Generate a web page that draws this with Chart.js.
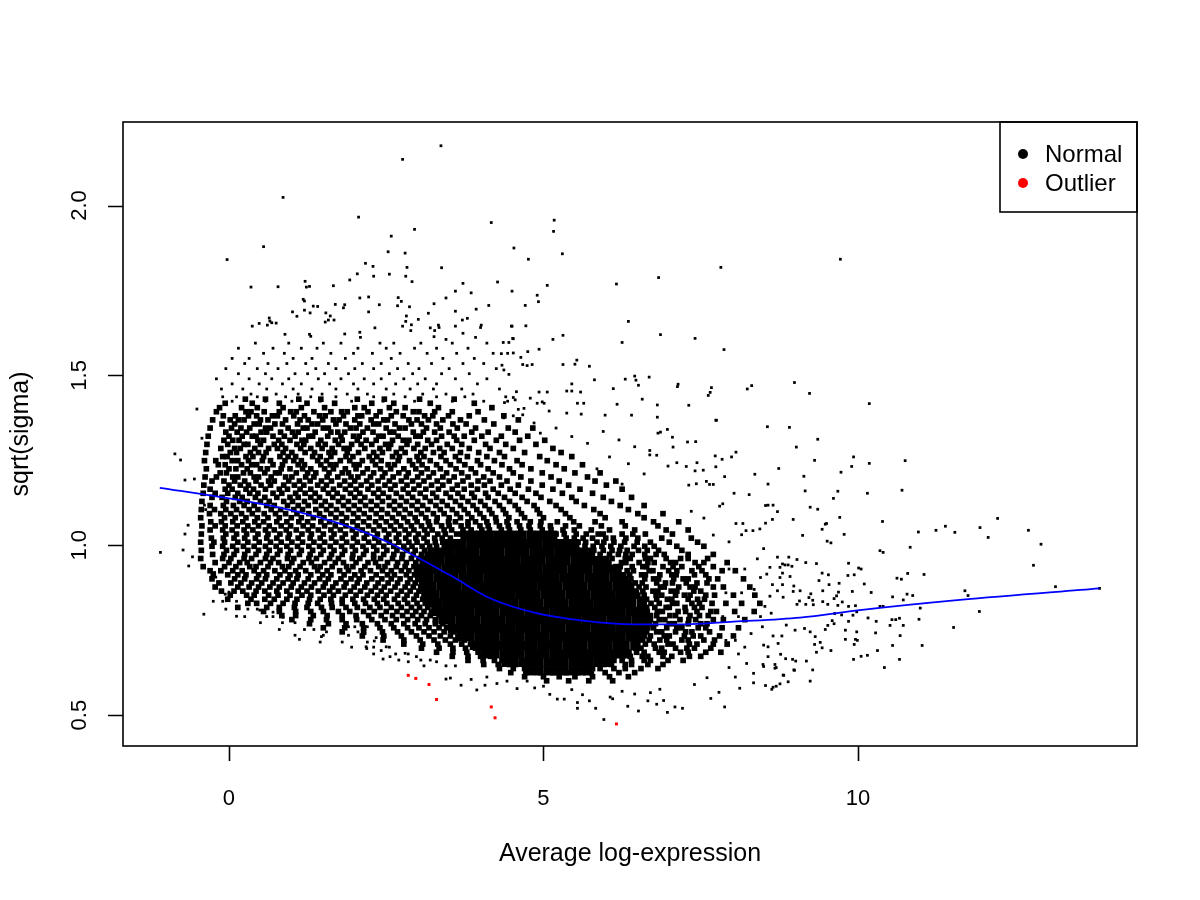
<!DOCTYPE html>
<html lang="en">
<head>
    <meta charset="UTF-8">
    <title>sqrt(sigma) vs Average log-expression</title>
    <script src="https://cdn.jsdelivr.net/npm/chart.js"></script>
    <style>
        body { margin: 0; background: #fff; }
        canvas { display: block; }
    </style>
</head>
<body>
    <canvas id="saChart" width="1200" height="900"></canvas>

    <script>
        // axis ticks
        const xTicks = [0, 5, 10];
        const yTicks = [0.5, 1.0, 1.5, 2.0];

        // fitted trend (Average log-expression, sqrt(sigma))
        const trendA = [-1.10, -0.10, 0.70, 1.49, 1.92, 2.13, 2.56, 3.08, 3.56, 4.15, 4.89, 5.63, 6.43, 7.22, 8.02, 9.08, 10.03, 11.62, 13.84];
        const trendS = [1.169, 1.141, 1.115, 1.079, 1.054, 1.040, 1.006, 0.956, 0.907, 0.844, 0.800, 0.778, 0.767, 0.767, 0.775, 0.787, 0.809, 0.839, 0.873];

        // outlier genes
        const outA = [2.85, 2.97, 3.18, 3.30, 4.17, 4.23, 6.16];
        const outS = [0.617, 0.608, 0.590, 0.546, 0.524, 0.492, 0.474];

        // solid centre of the cloud: [sqrt(sigma), A, A, ...]
        const coreRows = [
            [1.03, 3.75,3.88,4.0,4.13,4.27,4.4,4.53,4.66,4.8,4.93,5.06,5.15],
            [1.005, 3.45,3.58,3.71,3.85,3.98,4.11,4.25,4.38,4.51,4.65,4.78,4.91,5.05,5.18,5.31,5.42,5.5],
            [0.98, 3.25,3.38,3.51,3.65,3.78,3.91,4.05,4.18,4.31,4.45,4.58,4.71,4.85,4.98,5.11,5.25,5.38,5.51,5.63,5.75],
            [0.955, 3.1,3.23,3.36,3.5,3.63,3.76,3.9,4.03,4.16,4.3,4.43,4.56,4.7,4.83,4.96,5.1,5.23,5.36,5.5,5.63,5.76,5.87,5.95],
            [0.93, 3.05,3.18,3.31,3.45,3.58,3.71,3.85,3.98,4.11,4.25,4.38,4.51,4.65,4.78,4.91,5.05,5.18,5.31,5.45,5.58,5.71,5.85,5.98,6.1],
            [0.905, 3.05,3.18,3.32,3.45,3.58,3.72,3.85,3.98,4.12,4.25,4.38,4.52,4.65,4.78,4.92,5.05,5.18,5.32,5.45,5.58,5.72,5.85,5.98,6.12,6.25],
            [0.88, 3.1,3.23,3.37,3.5,3.63,3.77,3.9,4.03,4.17,4.3,4.43,4.57,4.7,4.83,4.97,5.1,5.23,5.37,5.5,5.63,5.77,5.9,6.03,6.17,6.3,6.35],
            [0.855, 3.15,3.28,3.42,3.55,3.68,3.82,3.95,4.08,4.22,4.35,4.48,4.62,4.75,4.88,5.02,5.15,5.28,5.42,5.55,5.68,5.82,5.95,6.08,6.22,6.35,6.45],
            [0.83, 3.2,3.33,3.47,3.6,3.73,3.87,4.0,4.13,4.27,4.4,4.53,4.67,4.8,4.93,5.07,5.2,5.33,5.47,5.6,5.73,5.87,6.0,6.13,6.27,6.4,6.55],
            [0.805, 3.3,3.43,3.57,3.7,3.83,3.97,4.1,4.23,4.37,4.5,4.63,4.77,4.9,5.03,5.17,5.3,5.43,5.57,5.7,5.83,5.97,6.1,6.23,6.37,6.5,6.6],
            [0.78, 3.4,3.53,3.67,3.8,3.93,4.07,4.2,4.33,4.47,4.6,4.73,4.87,5.0,5.13,5.27,5.4,5.53,5.67,5.8,5.93,6.07,6.2,6.33,6.47,6.6,6.65],
            [0.755, 3.55,3.68,3.82,3.95,4.08,4.22,4.35,4.48,4.62,4.75,4.88,5.02,5.15,5.28,5.42,5.55,5.68,5.82,5.95,6.08,6.22,6.35,6.48,6.6],
            [0.73, 3.7,3.83,3.97,4.1,4.23,4.37,4.5,4.63,4.77,4.9,5.03,5.17,5.3,5.43,5.57,5.7,5.83,5.97,6.1,6.23,6.37,6.5,6.55],
            [0.705, 3.9,4.03,4.17,4.3,4.43,4.57,4.7,4.83,4.97,5.1,5.23,5.37,5.5,5.63,5.77,5.9,6.03,6.17,6.3,6.45],
            [0.68, 4.1,4.23,4.37,4.5,4.63,4.77,4.9,5.03,5.17,5.3,5.43,5.57,5.7,5.83,5.97,6.1,6.22,6.3],
            [0.655, 4.4,4.53,4.67,4.8,4.93,5.07,5.2,5.33,5.47,5.6,5.73,5.87,5.98,6.05],
            [0.63, 4.8,4.93,5.07,5.2,5.33,5.47,5.6,5.7]
        ];

        // speckled body of the cloud: [sqrt(sigma), A, A, ...]
        const midRows = [
            [1.430, 0.26,0.58,1.11,1.46,2.04,2.47,3.03,3.58],
            [1.418, -0.06,0.37,0.8,1.24,1.68,2.27,2.62,3.2,3.9],
            [1.405, -0.15,0.2,0.45,0.86,1.15,1.52,2.0,2.15,2.55,2.8,3.33,4.18],
            [1.393, -0.2,0.27,0.35,0.56,0.8,0.98,1.07,1.35,1.62,1.79,1.88,2.21,2.4,2.66,2.93,3.02,3.27,3.55,3.96],
            [1.381, -0.09,0.1,0.31,0.44,0.69,0.77,1.03,1.2,1.44,1.53,1.82,2.05,2.11,2.34,2.58,2.77,3.11,3.24,3.49,3.82,4.37],
            [1.369, -0.26,0.02,0.15,0.24,0.5,0.62,0.9,1.13,1.26,1.49,1.66,1.75,2.0,2.26,2.46,2.52,2.86,2.99,3.17,3.4,3.68,4.06,4.6],
            [1.357, -0.11,0.09,0.4,0.48,0.73,0.85,1.09,1.32,1.41,1.7,1.86,2.08,2.3,2.38,2.64,2.9,3.06,3.3,3.56,3.77,4.21],
            [1.345, -0.3,0.04,0.19,0.33,0.58,0.66,0.94,1.18,1.24,1.5,1.58,1.93,2.02,2.2,2.5,2.71,2.8,3.14,3.36,3.63,3.92,4.44,4.83],
            [1.333, -0.05,0.13,0.28,0.51,0.6,0.82,1.01,1.1,1.37,1.62,1.73,1.84,2.13,2.29,2.56,2.62,2.93,3.09,3.27,3.5,3.86,4.12,4.55],
            [1.321, -0.33,0.0,0.21,0.37,0.43,0.7,0.88,1.05,1.27,1.33,1.57,1.78,1.98,2.07,2.38,2.45,2.69,2.97,3.04,3.38,3.58,3.74,4.02,4.33,4.75],
            [1.309, -0.08,0.06,0.16,0.46,0.55,0.79,0.97,1.16,1.22,1.46,1.69,1.8,2.04,2.18,2.34,2.6,2.77,2.86,3.16,3.3,3.62,3.9,4.25,4.62,5.02],
            [1.297, -0.35,-0.02,0.24,0.3,0.5,0.72,0.84,1.08,1.19,1.42,1.53,1.74,1.95,2.1,2.27,2.49,2.57,2.83,3.0,3.22,3.47,3.7,4.08,4.4,4.88],
            [1.285, -0.13,0.09,0.18,0.41,0.63,0.77,0.9,1.14,1.3,1.48,1.64,1.83,1.91,2.16,2.4,2.54,2.74,2.94,3.12,3.35,3.55,3.82,4.15,4.52,5.15],
            [1.273, -0.37,0.02,0.12,0.34,0.47,0.59,0.86,1.0,1.21,1.36,1.59,1.68,1.88,2.06,2.3,2.44,2.66,2.8,3.05,3.25,3.42,3.68,3.97,4.3,4.7,5.28],
            [1.261, -0.1,-0.03,0.27,0.38,0.55,0.81,0.94,1.06,1.33,1.45,1.62,1.86,1.97,2.23,2.35,2.6,2.71,2.99,3.1,3.37,3.6,3.79,4.1,4.38,4.94,5.45],
            [1.249, -0.39,-0.21,0.05,0.14,0.31,0.53,0.66,0.89,1.03,1.15,1.41,1.55,1.77,1.92,2.12,2.28,2.42,2.69,2.87,3.02,3.2,3.45,3.66,3.95,4.22,4.58,5.06],
            [1.237, -0.17,-0.06,0.2,0.36,0.44,0.7,0.85,1.1,1.2,1.46,1.61,1.7,1.99,2.07,2.33,2.53,2.63,2.92,3.07,3.3,3.52,3.75,4.0,4.34,4.66,5.2,5.62],
            [1.225, -0.36,0.0,0.11,0.29,0.5,0.61,0.83,0.97,1.17,1.3,1.52,1.66,1.85,2.02,2.2,2.41,2.57,2.78,2.97,3.15,3.36,3.61,3.85,4.12,4.46,4.8,5.33],
            [1.213, -0.14,-0.04,0.23,0.34,0.57,0.74,0.8,1.07,1.25,1.38,1.59,1.8,1.9,2.13,2.3,2.48,2.7,2.85,3.06,3.25,3.46,3.7,3.92,4.2,4.52,4.98,5.5,5.9],
            [1.201, -0.38,-0.2,0.06,0.14,0.4,0.47,0.67,0.9,1.0,1.22,1.35,1.56,1.73,1.94,2.05,2.25,2.44,2.61,2.82,3.0,3.18,3.4,3.58,3.8,4.05,4.3,4.64,5.12,5.7],
            [1.189, -0.27,-0.08,0.09,0.25,0.43,0.63,0.72,0.95,1.12,1.29,1.47,1.63,1.84,2.0,2.19,2.37,2.55,2.74,2.92,3.1,3.31,3.5,3.72,3.96,4.15,4.42,4.8,5.25,5.82,6.15],
            [1.177, -0.4,0.0,0.18,0.31,0.51,0.66,0.87,1.04,1.19,1.41,1.55,1.76,1.93,2.1,2.27,2.48,2.64,2.83,3.02,3.22,3.4,3.63,3.85,4.06,4.33,4.6,4.98,5.4,6.0],
            [1.165, -0.3,-0.06,0.05,0.27,0.39,0.58,0.8,0.93,1.13,1.3,1.5,1.66,1.85,2.02,2.21,2.38,2.57,2.77,2.94,3.13,3.33,3.55,3.74,3.95,4.2,4.47,4.76,5.15,5.58,6.25],
            [1.153, -0.41,-0.22,-0.02,0.14,0.33,0.46,0.7,0.84,1.06,1.21,1.37,1.58,1.72,1.93,2.08,2.3,2.45,2.66,2.85,3.04,3.24,3.45,3.64,3.86,4.08,4.28,4.55,4.88,5.3,5.78],
            [1.141, -0.27,-0.11,0.1,0.21,0.42,0.57,0.76,0.97,1.1,1.3,1.44,1.65,1.81,2.0,2.16,2.37,2.54,2.74,2.92,3.12,3.3,3.52,3.71,3.9,4.12,4.38,4.66,4.96,5.45,5.95,6.4],
            [1.129, -0.43,-0.04,0.17,0.29,0.5,0.64,0.87,1.01,1.2,1.37,1.53,1.74,1.9,2.09,2.26,2.44,2.63,2.82,3.0,3.2,3.39,3.6,3.8,4.0,4.23,4.46,4.74,5.1,5.52,6.08],
            [1.117, -0.3,-0.09,0.07,0.24,0.4,0.6,0.72,0.93,1.1,1.26,1.47,1.62,1.82,1.99,2.17,2.35,2.55,2.72,2.91,3.08,3.29,3.47,3.68,3.88,4.07,4.3,4.55,4.85,5.2,5.65,6.22,6.6],
            [1.105, -0.44,-0.23,-0.05,0.12,0.32,0.46,0.67,0.82,1.03,1.17,1.38,1.55,1.71,1.9,2.07,2.26,2.43,2.63,2.8,2.99,3.16,3.36,3.55,3.74,3.94,4.14,4.36,4.6,4.9,5.28,5.8,6.35],
            [1.093, -0.31,-0.13,0.03,0.2,0.37,0.56,0.74,0.9,1.08,1.27,1.44,1.62,1.79,1.98,2.15,2.34,2.52,2.7,2.88,3.06,3.25,3.42,3.62,3.8,3.99,4.18,4.4,4.65,4.94,5.35,5.9,6.5,6.9],
            [1.081, -0.45,-0.07,0.1,0.27,0.45,0.62,0.8,0.99,1.15,1.34,1.51,1.7,1.87,2.05,2.23,2.42,2.6,2.78,2.96,3.13,3.31,3.5,3.68,3.86,4.05,4.24,4.45,4.7,5.0,5.42,5.98,6.6],
            [1.069, -0.29,-0.12,0.06,0.22,0.41,0.55,0.76,0.92,1.11,1.25,1.46,1.6,1.8,1.97,2.14,2.33,2.5,2.66,2.84,2.99,3.17,3.3,3.49,3.6,3.8,3.92,4.1,4.25,4.42,4.58,4.79,4.96,5.22,5.48,5.82,6.25,6.75,7.15],
            [1.057, -0.43,-0.22,-0.06,0.13,0.3,0.47,0.64,0.83,0.98,1.18,1.33,1.52,1.69,1.86,2.04,2.22,2.39,2.57,2.73,2.9,3.06,3.19,3.38,3.5,3.69,3.8,3.99,4.12,4.3,4.44,4.62,4.77,4.95,5.11,5.35,5.57,5.92,6.3,6.82],
            [1.045, -0.3,-0.1,0.05,0.24,0.38,0.58,0.72,0.91,1.07,1.26,1.42,1.62,1.77,1.96,2.12,2.3,2.47,2.63,2.8,2.94,3.11,3.23,3.42,3.54,3.72,3.85,4.02,4.14,4.33,4.46,4.64,4.79,4.98,5.12,5.31,5.49,5.76,6.05,6.45,6.95,7.3],
            [1.033, -0.44,-0.05,0.12,0.28,0.46,0.62,0.81,0.96,1.16,1.31,1.5,1.67,1.85,2.02,2.19,2.36,2.54,2.7,2.86,3.01,3.15,3.32,3.44,3.62,3.7,5.2,5.33,5.52,5.68,5.87,5.95,6.25,6.42,6.62,7.05],
            [1.021, -0.28,-0.09,0.08,0.25,0.42,0.6,0.76,0.94,1.1,1.29,1.45,1.63,1.8,1.98,2.15,2.32,2.5,2.66,2.81,2.97,3.1,3.27,3.39,3.52,5.36,5.49,5.63,5.78,5.99,6.11,6.31,6.5,6.88,7.35],
            [1.009, -0.45,-0.24,-0.07,0.14,0.3,0.48,0.66,0.83,1.0,1.17,1.35,1.52,1.7,1.87,2.04,2.22,2.38,2.55,2.7,2.86,2.99,3.15,3.28,3.4,5.55,5.67,5.85,5.96,6.12,6.29,6.49,6.7,7.0,7.45],
            [0.997, -0.27,-0.1,0.06,0.23,0.4,0.58,0.75,0.92,1.09,1.27,1.44,1.61,1.79,1.96,2.13,2.3,2.46,2.62,2.78,2.91,3.07,3.19,3.3,5.66,5.79,5.93,6.07,6.23,6.44,6.61,6.76,7.12,7.55],
            [0.985, -0.44,-0.04,0.12,0.3,0.47,0.64,0.81,0.98,1.15,1.33,1.5,1.67,1.84,2.01,2.18,2.35,2.51,2.67,2.83,2.96,3.11,3.2,5.8,5.95,6.09,6.21,6.33,6.51,6.65,6.83,7.2],
            [0.973, -0.26,-0.08,0.08,0.25,0.43,0.6,0.77,0.94,1.12,1.29,1.46,1.63,1.8,1.97,2.14,2.3,2.46,2.62,2.76,2.93,3.06,3.15,5.9,6.05,6.19,6.31,6.41,6.61,6.79,6.92,7.3,7.7],
            [0.961, -0.45,-0.1,0.03,0.24,0.36,0.58,0.7,0.93,1.03,1.27,1.39,1.6,1.74,1.96,2.08,2.3,2.41,2.6,2.75,2.9,3.02,6.0,6.09,6.3,6.38,6.62,6.7,6.95,7.18,7.3,7.61],
            [0.949, -0.22,0.0,0.17,0.29,0.5,0.66,0.79,1.0,1.18,1.31,1.52,1.69,1.82,2.02,2.21,2.33,2.52,2.68,2.82,2.97,6.04,6.24,6.31,6.52,6.66,6.76,7.02,7.1,7.41,7.55,7.92],
            [0.937, -0.41,-0.07,0.11,0.33,0.43,0.62,0.85,0.95,1.13,1.36,1.45,1.64,1.87,1.97,2.16,2.38,2.48,2.66,2.8,2.94,3.0,6.15,6.22,6.41,6.58,6.64,6.9,7.06,7.2,7.47,7.7],
            [0.925, -0.3,-0.13,0.06,0.21,0.4,0.55,0.73,0.89,1.06,1.22,1.41,1.56,1.76,1.9,2.1,2.25,2.44,2.58,2.74,2.86,2.98,6.2,6.33,6.43,6.68,6.74,6.99,7.12,7.36,7.52,7.84,8.05],
            [0.913, -0.25,-0.02,0.14,0.27,0.47,0.6,0.81,0.97,1.1,1.3,1.49,1.62,1.83,2.0,2.13,2.34,2.52,2.63,2.82,2.95,6.25,6.37,6.56,6.62,6.85,7.04,7.11,7.4,7.58],
            [0.901, -0.27,0.09,0.25,0.44,0.58,0.76,0.94,1.08,1.26,1.44,1.58,1.78,1.94,2.07,2.27,2.43,2.58,2.72,2.88,3.0,6.3,6.39,6.61,6.75,6.83,7.07,7.22,7.3,7.63,7.77,8.18],
            [0.889, -0.16,0.03,0.19,0.36,0.52,0.7,0.86,1.02,1.2,1.36,1.53,1.7,1.86,2.04,2.19,2.37,2.53,2.68,2.84,2.96,3.06,6.35,6.46,6.57,6.8,6.94,7.05,7.27,7.44,7.6],
            [0.877, -0.22,0.14,0.32,0.47,0.65,0.8,0.99,1.15,1.31,1.5,1.65,1.83,1.99,2.16,2.33,2.47,2.64,2.8,2.93,3.05,6.4,6.52,6.63,6.86,6.92,7.15,7.33,7.41,7.7,7.86,8.28],
            [0.865, -0.12,0.08,0.22,0.43,0.57,0.76,0.92,1.1,1.24,1.42,1.6,1.74,1.93,2.09,2.26,2.42,2.57,2.74,2.88,3.02,3.1,6.45,6.58,6.74,6.82,7.03,7.12,7.39,7.5],
            [0.853, 0.02,0.28,0.4,0.63,0.78,0.97,1.16,1.3,1.51,1.66,1.85,2.02,2.2,2.36,2.5,2.68,2.83,2.98,3.1,6.5,6.6,6.79,6.88,7.1,7.24,7.33,7.58,7.72,8.02,8.36],
            [0.841, -0.02,0.35,0.57,0.72,0.92,1.08,1.28,1.45,1.62,1.8,1.97,2.14,2.31,2.46,2.63,2.79,2.94,3.08,3.16,6.55,6.64,6.8,6.97,7.04,7.3,7.45,7.56],
            [0.829, 0.3,0.44,0.66,0.86,1.05,1.26,1.41,1.63,1.8,2.0,2.17,2.36,2.51,2.69,2.84,2.99,3.12,6.6,6.71,6.84,7.05,7.12,7.36,7.48,7.68,7.9,8.15,8.44],
            [0.817, 0.14,0.6,0.8,1.04,1.24,1.47,1.64,1.86,2.04,2.24,2.4,2.58,2.74,2.9,3.03,3.16,3.26,6.64,6.77,6.95,7.0,7.25,7.4,7.52],
            [0.805, 0.55,0.8,1.06,1.3,1.5,1.74,1.92,2.14,2.31,2.5,2.67,2.83,2.97,3.1,3.22,3.3,6.65,6.81,6.89,7.14,7.26,7.44,7.66,7.75,8.04,8.35],
            [0.793, 0.84,1.06,1.34,1.56,1.8,2.02,2.22,2.42,2.6,2.76,2.92,3.06,3.2,3.34,6.7,6.8,7.01,7.1,7.33,7.48,7.62],
            [0.781, 1.0,1.3,1.55,1.8,2.03,2.27,2.48,2.66,2.84,3.0,3.14,3.28,3.38,6.7,6.84,6.93,7.17,7.31,7.42,7.7,7.86,8.2],
            [0.769, 1.28,1.58,1.86,2.12,2.36,2.58,2.78,2.96,3.12,3.28,3.4,6.68,6.78,7.0,7.08,7.3,7.5,7.6],
            [0.757, 1.5,1.84,2.14,2.4,2.62,2.84,3.02,3.18,3.34,3.46,6.66,6.75,6.96,7.12,7.2,7.46,7.58,7.84,8.1],
            [0.745, 1.8,2.14,2.44,2.68,2.9,3.1,3.26,3.42,3.56,6.64,6.8,6.88,7.1,7.26,7.36,7.64],
            [0.733, 2.12,2.46,2.74,2.98,3.18,3.36,3.52,3.64,6.6,6.7,6.92,7.0,7.24,7.38,7.5,7.8,8.02],
            [0.721, 2.45,2.78,3.04,3.26,3.44,3.6,3.74,6.56,6.68,6.85,6.96,7.2,7.3,7.55,7.72],
            [0.709, 2.78,3.08,3.32,3.52,3.7,3.84,6.5,6.62,6.76,6.98,7.06,7.32,7.44,7.7,7.92],
            [0.697, 3.06,3.34,3.56,3.76,3.92,6.46,6.55,6.78,6.88,7.1,7.28,7.4,7.66],
            [0.685, 3.3,3.56,3.78,3.96,4.04,6.36,6.48,6.6,6.84,6.92,7.18,7.3,7.58,7.82],
            [0.673, 3.55,3.8,4.0,4.16,6.26,6.38,6.57,6.66,6.9,7.04,7.32,7.5],
            [0.661, 3.8,4.04,4.22,4.34,6.12,6.25,6.4,6.6,6.7,6.98,7.22],
            [0.649, 4.05,4.28,4.46,4.56,5.96,6.08,6.3,6.4,6.66,6.9],
            [0.637, 4.3,4.52,4.7,5.78,5.9,6.12,6.3,6.55,6.82],
            [0.625, 4.48,4.72,4.95,5.15,5.36,5.55,5.76,5.98,6.2,6.45],
            [0.613, 4.7,5.0,5.25,5.5,5.78,6.05,6.35],
            [0.601, 5.05,5.4,5.72,6.1]
        ];

        // thinner band above the body and round the lower edge: [sqrt(sigma), A, A, ...]
        const thinRows = [
            [1.595, 0.42,0.95,1.5,1.78,2.4,2.62,3.05,3.55,4.1],
            [1.58, 0.15,0.7,1.15,1.4,2.05,2.5,2.95,3.3,3.8],
            [1.565, 0.55,0.88,1.62,1.98,2.28,2.72,3.15,3.62,4.2],
            [1.55, 0.05,0.32,1.02,1.32,1.85,2.58,3.4,3.9],
            [1.535, 0.25,0.62,0.92,1.22,1.58,2.12,2.42,2.85,3.22,3.72,4.05],
            [1.52, -0.05,0.45,0.78,1.38,1.7,2.0,2.3,2.68,3.02,3.5,4.25],
            [1.505, 0.15,0.58,1.05,1.25,1.52,1.9,2.55,2.92,3.38,3.82],
            [1.49, -0.2,0.32,0.68,0.95,1.42,1.78,2.15,2.42,2.78,3.12,3.6,4.1],
            [1.475, 0.05,0.48,0.85,1.15,1.6,1.98,2.3,2.65,3.0,3.3,3.95],
            [1.46, -0.12,0.22,0.6,1.02,1.32,1.7,2.05,2.5,2.88,3.25,3.7,4.3],
            [1.445, 0.35,0.75,1.1,1.48,1.88,2.2,2.62,3.08,3.45,3.88],
            [1.437, -0.1,0.12,0.45,0.9,1.3,1.7,2.3,2.8,3.3,3.75,4.4],
            [1.424, 0.05,0.58,1.0,1.45,1.95,2.45,2.95,3.55,4.05],
            [0.835, -0.25,-0.1,0.12],
            [0.812, -0.05,0.3,0.45],
            [0.79, 0.25,0.6,0.7],
            [0.772, 0.5,0.85,1.05],
            [0.752, 0.8,1.2,1.35],
            [0.735, 1.05,1.5,1.9],
            [0.715, 1.45,1.8,2.2],
            [0.7, 1.95,2.3,2.55],
            [0.68, 2.3,2.65,2.85],
            [0.662, 2.7,3.05,3.2],
            [0.645, 3.1,3.45,3.6],
            [0.93, 7.95,8.2],
            [0.86, 7.9,8.15],
            [0.79, 7.85,8.1],
            [0.72, 7.9,8.05]
        ];

        // isolated genes read one by one: [A, sqrt(sigma)]
        const loneUpper = [
            [3.37,2.176],[2.76,2.136],[0.86,2.024],[2.06,1.966],[4.17,1.950],[2.95,1.930],[2.58,1.910],[0.55,1.879],[4.53,1.875],[-0.03,1.841],
            [2.53,1.864],[2.80,1.860],[2.17,1.830],[2.29,1.821],[2.83,1.818],[3.38,1.817],[2.04,1.799],[2.30,1.792],[2.55,1.798],[2.81,1.792],
            [2.91,1.776],[1.92,1.781],[3.72,1.771],[4.27,1.775],[0.35,1.760],[0.78,1.761],[1.21,1.777],[1.23,1.760],[1.28,1.762],[1.66,1.764],
            [4.50,1.748],[3.60,1.748],[3.85,1.743],[3.45,1.728],[2.08,1.728],[2.22,1.731],[2.69,1.729],[2.74,1.718],[1.18,1.724],[1.20,1.719],
            [1.34,1.704],[1.41,1.703],[1.69,1.709],[1.84,1.708],[1.82,1.699],[2.39,1.708],[2.68,1.705],[2.87,1.702],[3.26,1.711],[4.13,1.706],
            [1.01,1.687],[1.20,1.692],[1.29,1.684],[1.08,1.674],[1.54,1.684],[1.61,1.675],[1.67,1.663],[2.22,1.687],[2.82,1.675],[3.17,1.683],
            [3.60,1.689],[3.93,1.695],[3.79,1.668],[3.71,1.663],[0.64,1.669],[0.65,1.660],[0.48,1.653],[0.37,1.645],[0.61,1.648],[0.68,1.655],
            [0.75,1.654],[0.89,1.621],[1.28,1.621],[1.30,1.615],[1.53,1.657],[1.58,1.663],[2.08,1.627],[2.09,1.612],[2.32,1.640],[1.84,1.622],
            [2.76,1.645],[2.81,1.659],[2.90,1.649],[2.89,1.632],[3.01,1.665],[3.20,1.640],[3.27,1.632],[3.33,1.648],[3.34,1.641],[3.60,1.645],
            [4.01,1.648],[4.00,1.641],[4.50,1.645],[3.72,1.624],[3.92,1.612],[3.26,1.614],[3.45,1.606],[4.52,1.608],[4.45,1.597],
            [5.17,1.957],[5.16,1.924],[4.76,1.842],[5.30,1.858],[9.72,1.842],[7.82,1.818],[6.83,1.788],[6.16,1.769],[5.06,1.765],[4.90,1.736],
            [4.92,1.717],[4.71,1.706],[6.35,1.659],[4.49,1.645],[4.72,1.646],[6.86,1.620],[7.41,1.609],[6.25,1.597],[4.51,1.609],[5.31,1.618],
            [5.15,1.606],[4.36,1.597],[7.87,1.576],[4.93,1.577],[4.75,1.570],[4.52,1.566],[4.43,1.565],[4.33,1.564],[4.64,1.553],[5.53,1.545],
            [5.50,1.533],[5.31,1.532],[5.73,1.527],[4.67,1.532],[4.74,1.529],[4.82,1.532],[4.34,1.530],[4.37,1.516],[4.45,1.503],[5.81,1.487],
            [6.30,1.489],[6.45,1.498],[6.47,1.486],[6.51,1.471],[6.68,1.495],[7.14,1.474],[7.67,1.464],[7.62,1.441],[8.24,1.460],[8.31,1.470],
            [8.99,1.479],[9.23,1.447],[10.18,1.417],[6.11,1.461],[6.17,1.415],[6.57,1.430],[6.81,1.413],[7.31,1.412],[6.81,1.377],[6.40,1.383],
            [5.98,1.383],[5.59,1.451],[5.64,1.418],[5.54,1.418],[5.45,1.475],[5.45,1.454],[5.37,1.454],[5.09,1.395],[5.37,1.389],[5.60,1.386],
            [7.75,1.368],[4.93,1.451],[5.06,1.451],[4.98,1.422],[5.01,1.418],[4.90,1.418],[4.79,1.433],[4.57,1.452],[4.52,1.435],[4.55,1.428],
            [4.38,1.420],[4.43,1.424],[4.60,1.400],[4.69,1.403],[4.67,1.384],[4.52,1.381],[4.37,1.375],[4.85,1.360],[5.20,1.345],[4.95,1.330],
            [5.45,1.320],[5.70,1.300],[5.95,1.335],[6.20,1.310],[6.45,1.290],[6.05,1.260],[6.35,1.240],[5.85,1.225],[6.60,1.210],[6.25,1.180]
        ];
        const loneRight = [
            [7.65,1.450],[7.13,1.467],[7.74,1.368],[8.56,1.349],[8.91,1.347],[9.36,1.312],[9.02,1.289],[9.31,1.250],[8.74,1.226],[8.36,1.209],
            [9.14,1.203],[8.57,1.180],[9.16,1.160],[7.88,1.202],[8.06,1.274],[7.99,1.260],[7.73,1.263],[7.84,1.253],[7.42,1.305],[7.06,1.289],
            [6.97,1.341],[6.82,1.330],[6.86,1.333],[7.05,1.318],[7.29,1.304],[7.44,1.243],[7.12,1.243],[7.27,1.232],[6.98,1.233],[6.69,1.266],
            [6.69,1.279],[6.80,1.265],[7.74,1.231],[7.54,1.221],[7.41,1.219],[7.59,1.188],[7.70,1.179],[7.64,1.179],[7.43,1.181],[7.31,1.177],
            [7.85,1.122],[7.80,1.115],[8.03,1.153],[8.27,1.149],[8.57,1.118],[8.65,1.118],[8.72,1.099],[9.50,1.064],[8.64,1.076],[8.17,1.064],
            [8.53,1.065],[8.44,1.048],[8.33,1.043],[8.22,1.043],[8.15,1.031],[8.06,1.064],[7.55,1.080],[7.35,1.100],[7.95,1.010],[7.70,1.030],
            [9.34,0.946],[9.17,0.949],[9.03,0.958],[8.95,0.938],[8.80,0.945],[8.72,0.965],[8.90,0.965],[9.43,0.918],[9.53,0.913],[9.54,0.884],
            [9.25,0.857],[9.28,0.838],[9.17,0.826],[9.62,0.843],[9.75,0.833],[9.68,0.823],[8.80,0.884],[8.92,0.908],[8.64,0.884],[8.72,0.866],
            [9.08,0.866],[9.03,0.826],[9.93,1.260],[9.90,1.232],[10.18,1.241],[10.75,1.249],[9.73,1.215],[9.68,1.159],[10.15,1.153],[10.70,1.162],
            [9.61,1.138],[8.53,1.117],[9.24,1.112],[9.36,1.106],[8.97,1.076],[9.71,1.082],[10.39,1.070],[12.22,1.079],[11.94,1.052],[11.39,1.056],
            [11.24,1.044],[11.54,1.038],[10.96,1.039],[12.07,1.023],[12.71,1.044],[12.91,1.003],[9.43,1.047],[9.48,1.062],[9.12,1.029],[9.78,1.032],
            [9.51,1.012],[9.57,1.007],[10.83,0.994],[10.35,0.984],[10.40,0.979],[12.79,0.941],[13.14,0.878],[13.84,0.873],[11.05,0.914],[10.79,0.917],
            [10.62,0.903],[10.69,0.900],[9.85,0.947],[10.01,0.933],[10.05,0.930],[9.94,0.913],[9.84,0.911],[10.10,0.886],[10.21,0.861],[10.55,0.848],
            [10.72,0.839],[10.87,0.852],[10.78,0.856],[10.40,0.820],[10.99,0.815],[11.75,0.852],[11.70,0.866],[11.93,0.805],[10.16,0.786],[10.29,0.776],
            [10.60,0.781],[10.54,0.781],[10.66,0.785],[10.51,0.764],[10.72,0.764],[10.97,0.782],[10.28,0.742],[10.67,0.734],[11.52,0.758],[9.98,0.745],
            [9.99,0.720],[9.94,0.708],[10.55,0.705],[11.02,0.705],[10.31,0.690],[10.15,0.676],[10.05,0.673],[9.93,0.664],[10.66,0.664],[10.42,0.640],
            [9.57,0.690],[9.43,0.698],[9.34,0.685],[9.28,0.633],[9.24,0.600],[9.18,0.659],[9.01,0.659],[8.98,0.633],[8.82,0.617],[8.89,0.598],
            [8.76,0.592],[8.70,0.585],[8.63,0.576],[8.53,0.587],[8.49,0.649],[8.68,0.649],[8.70,0.640],[8.57,0.672],[8.77,0.679],[8.85,0.666],
            [8.96,0.664],[9.32,0.731],[9.40,0.714],[9.31,0.708],[9.80,0.723],[9.96,0.723],[9.80,0.750],[9.62,0.769],[9.52,0.764],[9.59,0.778],
            [9.48,0.752],[9.24,0.745],[9.15,0.755],[9.00,0.750],[8.79,0.733],[8.65,0.733],[8.57,0.701],[8.50,0.706],[8.73,0.711],[8.86,0.765],
            [9.74,0.795],[9.63,0.799],[9.85,0.776],[9.92,0.794],[9.98,0.804],[9.96,0.822],[9.85,0.820],[10.35,0.820],[9.66,0.851],[9.69,0.862],
            [9.91,0.864],[9.70,0.888],[9.38,0.896],[9.44,0.866],[9.22,0.846],[9.29,0.825],[9.44,0.834],[9.52,0.826],[9.07,0.836],[8.98,0.880],
            [8.97,0.864],[8.81,0.847],[8.84,0.942],[8.89,0.942],[8.76,0.935],[8.80,0.918],[8.76,0.905],[8.60,0.935],[8.55,0.915],[8.45,0.790],
            [8.52,0.820],[8.60,0.850],[8.48,0.760],[8.62,0.800],[8.40,0.960],[8.50,0.990],[8.35,0.870],[8.45,0.905]
        ];
        const loneLower = [
            [-0.51,1.401],[-0.86,1.269],[-0.77,1.251],[-0.70,1.192],[-0.55,1.195],[-0.43,1.315],[-0.39,1.118],[-0.37,1.105],[-0.65,1.059],[-0.70,1.033],
            [-0.58,0.966],[-1.09,0.979],[-0.73,0.986],[-0.64,0.939],[-0.40,0.797],[0.12,0.791],[-0.21,0.906],[-0.23,0.920],[-0.06,0.856],[0.00,0.862],
            [0.49,0.809],[0.70,0.803],[0.86,0.788],[1.12,0.723],[1.47,0.731],[1.55,0.745],[1.90,0.760],[2.00,0.760],[2.20,0.760],[2.18,0.701],
            [2.50,0.701],[2.56,0.672],[2.98,0.672],[2.19,0.696],[2.45,0.665],[2.42,0.690],[2.48,0.730],[2.34,0.728],[2.31,0.718],[2.05,0.745],
            [2.16,0.740],[2.80,0.682],[2.85,0.657],[3.30,0.657],[3.45,0.606],[3.52,0.609],[3.69,0.588],[3.94,0.574],[4.07,0.588],[4.26,0.593],
            [4.42,0.600],[4.58,0.578],[4.74,0.600],[4.86,0.580],[5.10,0.561],[5.22,0.547],[5.33,0.547],[5.54,0.537],[5.54,0.520],[5.73,0.542],
            [5.83,0.520],[5.96,0.487],[6.06,0.553],[6.10,0.548],[6.34,0.526],[6.51,0.512],[6.66,0.542],[6.80,0.532],[6.97,0.508],[7.09,0.524],
            [7.21,0.520],[7.66,0.549],[7.88,0.524],[7.79,0.567],[8.12,0.579],[8.34,0.595],[8.65,0.582],[8.81,0.618],[8.99,0.632],[8.34,0.623],
            [8.50,0.643],[8.68,0.638],[8.23,0.652],[8.05,0.612],[6.70,0.566],[6.85,0.576],[6.91,0.543],[6.45,0.562],[6.25,0.570],[5.62,0.560],
            [5.45,0.575],[5.00,0.585],[4.10,0.612],[3.85,0.605],[7.40,0.590],[7.60,0.610],[7.95,0.640],[8.20,0.700],[8.30,0.740],[8.10,0.680]
        ];

        const rowsToPoints = rows => rows.flatMap(r => r.slice(1).map(a => ({ x: a, y: r[0] })));
        const pairsToPoints = pairs => pairs.map(p => ({ x: p[0], y: p[1] }));
        const zip = (xs, ys) => xs.map((v, i) => ({ x: v, y: ys[i] }));

        const FONT = '"Liberation Sans", Arial, Helvetica, sans-serif';

        // frame, ticks, labels and legend laid out like R base graphics
        const framePlugin = {
            id: 'frame',
            afterDraw(chart) {
                const { ctx, chartArea: a, scales: { x, y } } = chart;
                ctx.save();
                ctx.strokeStyle = '#000';
                ctx.lineWidth = 1.6;
                ctx.strokeRect(a.left, a.top, a.right - a.left, a.bottom - a.top);

                ctx.beginPath();
                xTicks.forEach(v => {
                    const px = Math.round(x.getPixelForValue(v)) + 0.5;
                    ctx.moveTo(px, a.bottom);
                    ctx.lineTo(px, a.bottom + 15);
                });
                yTicks.forEach(v => {
                    const py = Math.round(y.getPixelForValue(v)) + 0.5;
                    ctx.moveTo(a.left, py);
                    ctx.lineTo(a.left - 15, py);
                });
                ctx.stroke();

                ctx.fillStyle = '#000';
                ctx.textAlign = 'center';
                ctx.textBaseline = 'alphabetic';
                ctx.font = '22px ' + FONT;
                xTicks.forEach(v => ctx.fillText(String(v), x.getPixelForValue(v), 805));
                yTicks.forEach(v => {
                    ctx.save();
                    ctx.translate(86, y.getPixelForValue(v));
                    ctx.rotate(-Math.PI / 2);
                    ctx.fillText(v.toFixed(1), 0, 0);
                    ctx.restore();
                });

                ctx.font = '25px ' + FONT;
                ctx.fillText('Average log-expression', (a.left + a.right) / 2, 861);
                ctx.save();
                ctx.translate(28, (a.top + a.bottom) / 2);
                ctx.rotate(-Math.PI / 2);
                ctx.fillText('sqrt(sigma)', 0, 0);
                ctx.restore();

                // legend box in the top right corner
                const lx = 1000, ly = a.top, lw = a.right - 1000, lh = 90;
                ctx.strokeRect(lx, ly, lw, lh);
                ctx.font = '24px ' + FONT;
                ctx.textAlign = 'left';
                ctx.textBaseline = 'middle';
                [['Normal', '#000000', 154], ['Outlier', '#FF0000', 183]].forEach(([txt, col, cy]) => {
                    ctx.fillStyle = col;
                    ctx.beginPath();
                    ctx.arc(1023, cy, 5, 0, Math.PI * 2);
                    ctx.fill();
                    ctx.fillStyle = '#000';
                    ctx.fillText(txt, 1045, cy + 1);
                });
                ctx.restore();
            }
        };

        const fixedWidth = w => scale => { scale.width = w; };
        const fixedHeight = h => scale => { scale.height = h; };

        new Chart(document.getElementById('saChart'), {
            type: 'scatter',
            data: {
                datasets: [
                    {
                        label: 'Trend',
                        type: 'line',
                        data: zip(trendA, trendS),
                        borderColor: '#0000FF',
                        borderWidth: 1.8,
                        pointRadius: 0,
                        fill: false,
                        cubicInterpolationMode: 'monotone'
                    },
                    {
                        label: 'Outlier',
                        data: zip(outA, outS),
                        backgroundColor: '#FF0000',
                        pointRadius: 2.1
                    },
                    {
                        label: 'Normal',
                        data: pairsToPoints(loneUpper.concat(loneRight, loneLower)).concat(rowsToPoints(thinRows)),
                        backgroundColor: '#000000',
                        pointRadius: 1.95
                    },
                    {
                        label: 'Normal body',
                        data: rowsToPoints(midRows),
                        backgroundColor: '#000000',
                        pointRadius: 4.0
                    },
                    {
                        label: 'Normal core',
                        data: rowsToPoints(coreRows),
                        backgroundColor: '#000000',
                        pointRadius: 6.4
                    }
                ]
            },
            options: {
                responsive: false,
                animation: false,
                devicePixelRatio: 1,
                events: [],
                layout: { padding: { left: 93, right: 63, top: 122, bottom: 124 } },
                elements: { point: { pointStyle: 'rect', borderWidth: 0 } },
                plugins: { legend: { display: false }, tooltip: { enabled: false } },
                scales: {
                    x: {
                        type: 'linear',
                        min: -1.685,
                        max: 14.436,
                        grid: { display: false },
                        border: { display: false },
                        ticks: { display: false },
                        afterFit: fixedHeight(30)
                    },
                    y: {
                        type: 'linear',
                        min: 0.409,
                        max: 2.246,
                        grid: { display: false },
                        border: { display: false },
                        ticks: { display: false },
                        afterFit: fixedWidth(30)
                    }
                }
            },
            plugins: [framePlugin]
        });
    </script>
</body>
</html>
